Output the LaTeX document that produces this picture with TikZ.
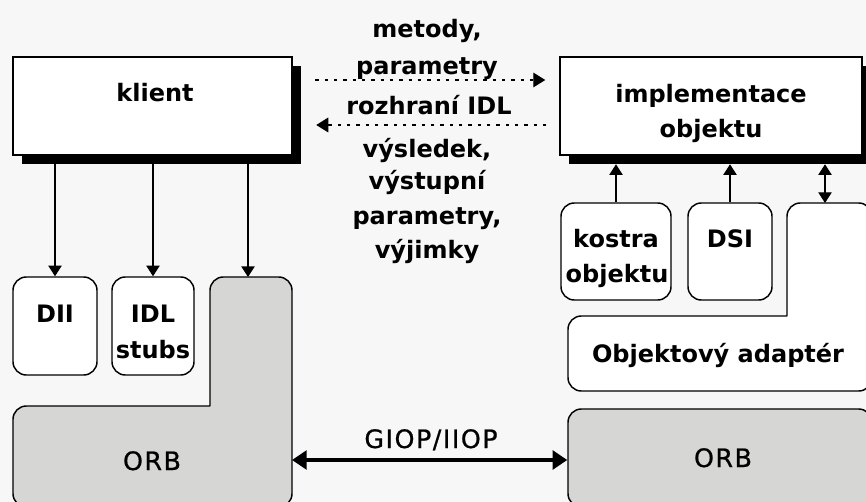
\documentclass[tikz,border=0pt]{standalone}
\usepackage{fontspec}
\setmainfont{DejaVu Sans}
\newfontfamily\orbfont[LetterSpace=6,FakeBold=0.8]{DejaVu Sans}
\usetikzlibrary{arrows.meta,fit,calc}
\definecolor{paper}{RGB}{248,247,248}
\definecolor{orbgray}{RGB}{214,215,212}
\begin{document}
\begin{tikzpicture}[x=0.75pt,y=-0.75pt,
  box/.style={draw, line width=1.1pt, fill=white, inner sep=0pt},
  rbox/.style={box, rounded corners=10pt},
  shadowbox/.style={fill=black, draw=none, inner sep=0pt},
  lbl/.style={font=\fontsize{18}{21}\selectfont\bfseries, anchor=base, inner sep=0pt},
  orblbl/.style={font=\orbfont\fontsize{19}{22}\selectfont, anchor=base, inner sep=0pt},
  arr/.style={line width=1pt, -{Triangle[length=8pt,width=10pt]}},
  dblarr/.style={line width=1pt, {Triangle[length=8pt,width=10pt]}-{Triangle[length=8pt,width=10pt]}},
  dasharr/.style={line width=0.9pt, dash pattern=on 2.5pt off 4.5pt, -{Triangle[length=9pt,width=11pt]}},
  thickarr/.style={line width=3pt, {Triangle[length=11pt,width=14pt]}-{Triangle[length=11pt,width=14pt]}}
]
% page and background
\useasboundingbox (0,0) rectangle (866,502);
\clip (0,0) rectangle (866,502);
\fill[paper] (0,0) rectangle (866,502);

% ---- client side ----
\node[shadowbox, fit={(22,66) (301,164)}] (klientsh) {};
\node[box, fit={(13,57) (292,155)}] (klient) {};
\node[lbl] (klienttxt) at (155,102) {klient};

\node[rbox, fit={(13,277) (97,375)}] (dii) {};
\node[lbl] (diitxt) at (55,322) {DII};
\node[rbox, fit={(112,277) (194,375)}] (idl) {};
\node[lbl] (idltxt) at (153,322) {IDL};
\node[lbl] (stubstxt) at (153,358) {stubs};

% L-shaped client ORB
\draw[line width=1.1pt, fill=orbgray] (210,406) [rounded corners=10pt] -- (210,277) -- (292,277)
  -- (292,507) -- (13,507) -- (13,406) -- (210,406);
\coordinate (orbLtop) at (248,277);
\coordinate (orbLeast) at (292,460);
\node[orblbl] (orbLtxt) at (152,470) {ORB};

\draw[arr] (dii.north |- klientsh.south) -- (dii.north);
\draw[arr] (idl.north |- klientsh.south) -- (idl.north);
\draw[arr] (orbLtop |- klientsh.south) -- (orbLtop);

% ---- server side ----
\node[shadowbox, fit={(569,66) (871,164)}] (implsh) {};
\node[box, fit={(560,57) (862,155)}] (impl) {};
\node[lbl] (impltxt) at (711,103) {implementace};
\node[lbl] (objtxt) at (711,138) {objektu};

\node[rbox, fit={(561,203) (671,300)}] (kostra) {};
\node[lbl] (kostratxt) at (616,247) {kostra};
\node[lbl] (kostraobj) at (617,282) {objektu};
\node[rbox, fit={(688,203) (772,300)}] (dsi) {};
\node[lbl] (dsitxt) at (730,247) {DSI};

% L-shaped object adapter
\draw[line width=1.1pt, fill=white] (787,316) [rounded corners=10pt] -- (787,203) -- (872,203)
  -- (872,391) -- (568,391) -- (568,316) -- (787,316);
\coordinate (adtop) at (825,203);
\node[lbl] (adtxt) at (718,362) {Objektový adaptér};

\node[rbox, fill=orbgray, fit={(568,409) (872,507)}] (orbR) {};
\node[orblbl] (orbRtxt) at (723,467) {ORB};

\draw[arr] (kostra.north) -- (kostra.north |- implsh.south);
\draw[arr] (dsi.north) -- (dsi.north |- implsh.south);
\draw[dblarr] (adtop) -- (adtop |- implsh.south);

% ---- requests and replies ----
\draw[dasharr] ($(klientsh.east |- 0,80)+(14,0)$) -- ($(impl.west |- 0,80)+(-14,0)$);
\draw[dasharr] ($(impl.west |- 0,125)+(-13,0)$) -- ($(klientsh.east |- 0,125)+(15,0)$);
\node[lbl] (m1) at (427,38) {metody,};
\node[lbl] (m2) at (427,75) {parametry};
\node[lbl] (m3) at (429,115) {rozhraní IDL};
\node[lbl] (r1) at (427,158) {výsledek,};
\node[lbl] (r2) at (427,190) {výstupní};
\node[lbl] (r3) at (427,224) {parametry,};
\node[lbl] (r4) at (427,258) {výjimky};

% ---- inter-ORB protocol ----
\draw[thickarr] (orbLeast) -- (orbR.west |- orbLeast);
\node[orblbl] (gioptxt) at (431,448) {GIOP/IIOP};
\end{tikzpicture}
\end{document}
